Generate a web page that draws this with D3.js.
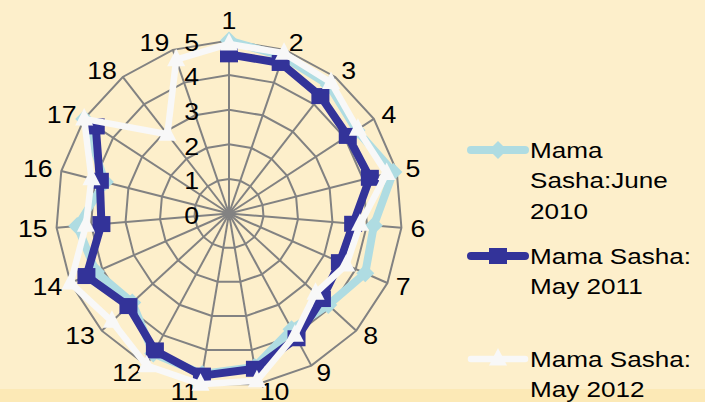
<!DOCTYPE html>
<html>
<head>
<meta charset="utf-8">
<script src="https://cdn.jsdelivr.net/npm/d3@7"></script>
<style>
  html, body { margin: 0; padding: 0; background: #fdefcb; }
  svg { display: block; font-family: "Liberation Sans", Arial, sans-serif; }
</style>
</head>
<body>
<div id="chart"></div>
<script>
const categories = ['1','2','3','4','5','6','7','8','9','10','11','12','13','14','15','16','17','18','19']
const june2010 = [5.0, 4.8, 4.7, 4.4, 4.9, 4.2, 4.3, 3.9, 3.8, 4.5, 4.7, 4.6, 3.8, 4.2, 4.4, 3.7, 5.0, null, null]
const may2011  = [4.6, 4.6, 4.3, 4.1, 4.2, 3.6, 3.5, 3.65, 4.1, 4.55, 4.75, 4.5, 3.95, 4.5, 3.7, 3.85, 4.6, null, null]
const may2012  = [4.9, 4.9, 4.8, 4.45, 4.7, 3.8, 3.7, 3.4, 4.0, 4.9, 5.0, 5.0, 4.6, 5.0, 4.15, 4.1, 5.0, 2.9, 4.7]
const seriesNames = ['Mama\nSasha:June\n2010', 'Mama Sasha:\nMay 2011', 'Mama Sasha:\nMay 2012']
const ticks = [0, 1, 2, 3, 4, 5]

var chart_width  = 705;
var chart_height = 402;
var cx = 229, cy = 213.5;
var stretch = 1.16;   // text in the picture is a bit wide

var svg = d3.select('#chart')
    .append('svg')
    .attr('width', chart_width)
    .attr('height', chart_height);

svg.append('rect')
    .attr('width', chart_width)
    .attr('height', chart_height)
    .attr('fill', '#fdefcb');
// slightly deeper yellow strip at the bottom
svg.append('rect')
    .attr('y', 389)
    .attr('width', chart_width)
    .attr('height', 13)
    .attr('fill', '#fbe5a8')
    .attr('opacity', 0.6);

const r_scale = d3.scaleLinear().domain([0, 5]).range([0, 173])
const a_scale = d3.scaleLinear().domain([0, categories.length]).range([0, 2 * Math.PI])

const g = svg.append('g').attr('transform', `translate(${cx},${cy})`)

function px(i, v){ return r_scale(v) * Math.sin(a_scale(i)) }
function py(i, v){ return -r_scale(v) * Math.cos(a_scale(i)) }

// grid rings (polygons)
ticks.filter(t => t > 0).forEach(t => {
    g.append('polygon')
        .attr('points', categories.map((c, i) => [px(i, t), py(i, t)].join(',')).join(' '))
        .attr('fill', 'none')
        .attr('stroke', '#828282')
        .attr('stroke-width', 2)
})

// spokes
g.selectAll('.spoke')
    .data(categories)
    .enter()
    .append('line')
    .attr('x1', 0).attr('y1', 0)
    .attr('x2', (d, i) => px(i, 5))
    .attr('y2', (d, i) => py(i, 5))
    .attr('stroke', '#828282')
    .attr('stroke-width', 2)

g.append('circle').attr('r', 5).attr('fill', '#828282')

// category labels: box touches the anchor just outside the outer ring
const labelR = 181
g.selectAll('.cat')
    .data(categories)
    .enter()
    .append('text')
    .text(d => d)
    .attr('transform', (d, i) => {
        const a = a_scale(i)
        if (i === 0) return `translate(0,${-labelR - 4}) scale(${stretch},1)`
        const dx = Math.sin(a) > 0 ? 1 : -1
        return `translate(${labelR * Math.sin(a) + dx},${-labelR * Math.cos(a)}) scale(${stretch},1)`
    })
    .attr('font-size', 23)
    .attr('fill', '#000')
    .attr('text-anchor', (d, i) => i === 0 ? 'middle' : (Math.sin(a_scale(i)) > 0 ? 'start' : 'end'))
    .attr('dominant-baseline', (d, i) => i === 0 ? 'auto' : 'central')

// tick labels
g.selectAll('.tick')
    .data(ticks)
    .enter()
    .append('text')
    .text(d => d)
    .attr('transform', d => `translate(-30,${-r_scale(d) + 2}) scale(${stretch},1)`)
    .attr('font-size', 23)
    .attr('fill', '#000')
    .attr('text-anchor', 'end')
    .attr('dominant-baseline', 'central')

const series = [
    {values: june2010, color: '#afdce2', width: 8, marker: 'diamond', closed: false},
    {values: may2011,  color: '#333399', width: 8, marker: 'square',  closed: false},
    {values: may2012,  color: '#f8f8f8', width: 6.5, marker: 'triangle', closed: true}
]

function markerPath(type){
    if (type === 'square') return 'M-9,-8L9,-8L9,8L-9,8Z'
    if (type === 'diamond') return 'M0,-9L9,0L0,9L-9,0Z'
    return 'M0,-11L9,6.5L-9,6.5Z'
}

series.forEach(s => {
    const line = d3.lineRadial()
        .defined(d => d != null)
        .angle((d, i) => a_scale(i))
        .radius(d => r_scale(d))
        .curve(s.closed ? d3.curveLinearClosed : d3.curveLinear)

    g.append('path')
        .attr('d', line(s.values))
        .attr('fill', 'none')
        .attr('stroke', s.color)
        .attr('stroke-width', s.width)
        .attr('stroke-linejoin', 'round')

    g.selectAll(null)
        .data(s.values.map((v, i) => ({v, i})).filter(d => d.v != null))
        .enter()
        .append('path')
        .attr('d', markerPath(s.marker))
        .attr('transform', d => `translate(${px(d.i, d.v)},${py(d.i, d.v)})`)
        .attr('fill', s.color)
})

// legend
const legendRows = [150, 256, 359]
series.forEach((s, k) => {
    const lg = svg.append('g').attr('transform', `translate(0,${legendRows[k]})`)
    lg.append('line')
        .attr('x1', 471).attr('x2', 525)
        .attr('stroke', s.color)
        .attr('stroke-width', s.width)
        .attr('stroke-linecap', 'round')
    lg.append('path')
        .attr('d', markerPath(s.marker))
        .attr('transform', 'translate(498,0)')
        .attr('fill', s.color)
    seriesNames[k].split('\n').forEach((t, j) => {
        lg.append('text')
            .text(t)
            .attr('transform', `translate(530,${j * 30.5}) scale(${stretch},1)`)
            .attr('font-size', 22.5)
            .attr('fill', '#000')
            .attr('dominant-baseline', 'central')
    })
})
</script>
</body>
</html>
